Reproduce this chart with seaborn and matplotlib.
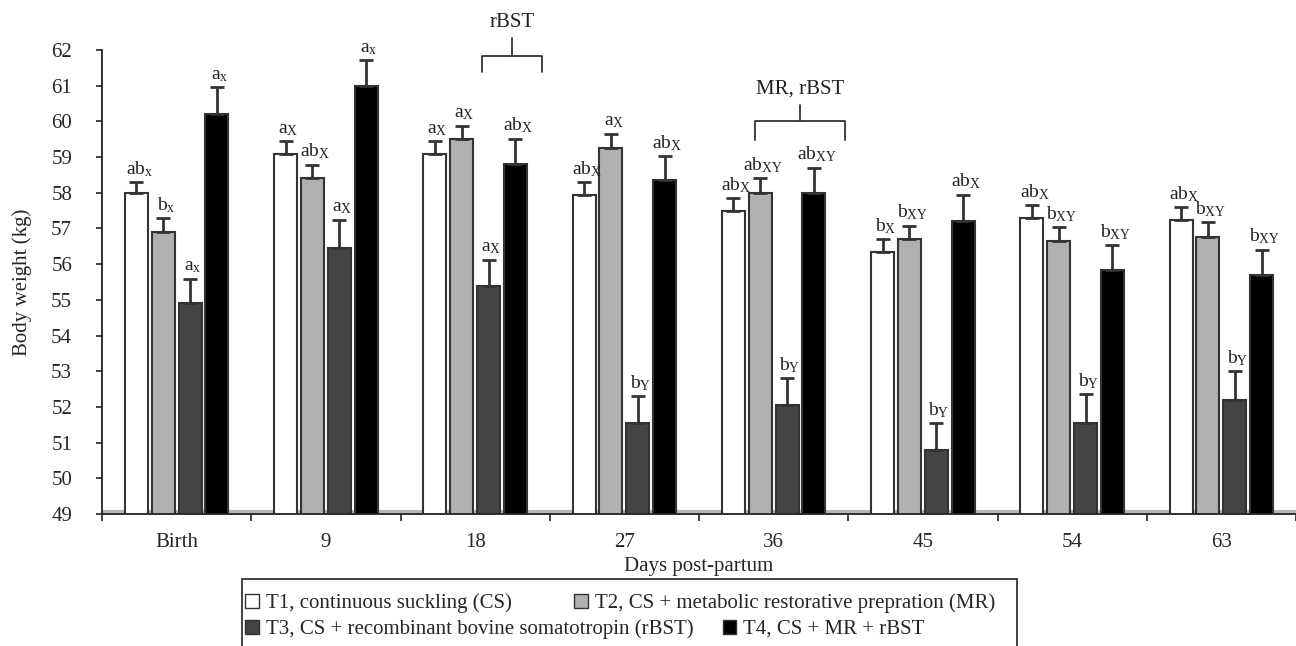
import numpy as np
import pandas as pd
import seaborn as sns
import matplotlib.pyplot as plt
from matplotlib.lines import Line2D
from matplotlib.patches import Patch, Rectangle

days = ["Birth", "9", "18", "27", "36", "45", "54", "63"]
treatments = ["T1, continuous suckling (CS)",
              "T2, CS + metabolic restorative prepration (MR)",
              "T3, CS + recombinant bovine somatotropin (rBST)",
              "T4, CS + MR + rBST"]

t1 = [58.0, 59.1, 59.1, 57.95, 57.5, 56.35, 57.3, 57.25]
t2 = [56.9, 58.4, 59.5, 59.25, 58.0, 56.7, 56.65, 56.75]
t3 = [54.9, 56.45, 55.4, 51.55, 52.05, 50.8, 51.55, 52.2]
t4 = [60.2, 61.0, 58.8, 58.35, 58.0, 57.2, 55.85, 55.7]

e1 = [0.3, 0.34, 0.35, 0.35, 0.35, 0.35, 0.35, 0.35]
e2 = [0.39, 0.39, 0.38, 0.4, 0.4, 0.38, 0.38, 0.42]
e3 = [0.69, 0.79, 0.72, 0.75, 0.75, 0.75, 0.8, 0.8]
e4 = [0.75, 0.72, 0.72, 0.68, 0.7, 0.75, 0.68, 0.7]

lab1 = ["ab|x", "a|X", "a|X", "ab|X", "ab|X", "b|X", "ab|X", "ab|X"]
lab2 = ["b|x", "ab|X", "a|X", "a|X", "ab|XY", "b|XY", "b|XY", "b|XY"]
lab3 = ["a|x", "a|X", "a|X", "b|Y", "b|Y", "b|Y", "b|Y", "b|Y"]
lab4 = ["a|x", "a|x", "ab|X", "ab|X", "ab|XY", "ab|X", "b|XY", "b|XY"]

colors = ["#ffffff", "#b0b0b0", "#444444", "#000000"]

vals = [t1, t2, t3, t4]
errs = [e1, e2, e3, e4]
labs = [lab1, lab2, lab3, lab4]

rows = []
for ti, t in enumerate(treatments):
    for di, d in enumerate(days):
        rows.append({"Day": d, "Treatment": t, "Weight": vals[ti][di]})
df = pd.DataFrame(rows)

sns.set_theme(style="white")
plt.rcParams['font.family'] = ['Liberation Serif', 'DejaVu Serif']
plt.rcParams['mathtext.fontset'] = 'custom'
plt.rcParams['mathtext.rm'] = 'Liberation Serif'
plt.rcParams['mathtext.it'] = 'Liberation Serif:italic'

fig = plt.figure(figsize=(12.96, 6.46), dpi=100)
ax = fig.add_axes([102/1296, 1-514/646, 1-102/1296, (514-50)/646])

sns.barplot(data=df, x="Day", y="Weight", hue="Treatment", order=days,
            hue_order=treatments, palette=colors, errorbar=None,
            width=0.72, gap=0.14, edgecolor="#333333", linewidth=1.5,
            ax=ax, legend=False)

ax.set_ylim(49, 62)
ax.set_xlim(-0.5, 7.5)

bar_conts = list(ax.containers)
for ti, cont in enumerate(bar_conts):
    xs = [p.get_x() + p.get_width()/2 for p in cont.patches]
    hs = [p.get_height() + p.get_y() for p in cont.patches]
    ax.errorbar(xs, hs, yerr=[np.zeros(len(xs)), errs[ti]], fmt='none',
                ecolor="#333333", elinewidth=2, capsize=5, capthick=2, zorder=3)
    for x, h, e, lab in zip(xs, hs, errs[ti], labs[ti]):
        main, sub = lab.split("|")
        ax.annotate(r"$\mathrm{%s}_{\mathrm{%s}}$" % (main, sub), (x, h + e),
                    xytext=(2, 2.5), textcoords="offset points",
                    ha="center", va="bottom", fontsize=14, color="#222222",
                    annotation_clip=False)

# brackets
def bracket(x0, x1, y, ylow, ytop, ytext, text):
    kw = dict(color="#333333", lw=1.3, clip_on=False)
    xm = (x0 + x1) / 2
    ax.add_line(Line2D([x0, x0, x1, x1], [ylow, y, y, ylow], **kw))
    ax.add_line(Line2D([xm, xm], [y, ytop], **kw))
    ax.text(xm, ytext, text, ha="center", va="center", fontsize=15,
            color="#222222", clip_on=False)

bracket(2.045, 2.45, 61.83, 61.38, 62.34, 62.78, "rBST")
bracket(3.877, 4.476, 60.0, 59.48, 60.46, 60.92, "MR, rBST")

# axes styling
ax.axhline(49.06, color="#b8b8b8", lw=3, zorder=0.5)
sns.despine(ax=ax, top=True, right=True)
for s in ["left", "bottom"]:
    ax.spines[s].set_color("#222222")
    ax.spines[s].set_linewidth(1.3)
ax.set_yticks(np.arange(49, 63, 1))
ax.set_yticklabels([str(v) for v in range(49, 63)], fontsize=15)
ax.tick_params(axis="y", direction="out", length=4.5, width=1.2, color="#222222",
               left=True, pad=17)
ax.set_xticks(range(len(days)))
ax.set_xticklabels(days, fontsize=15)
ax.tick_params(axis="x", which="major", length=0, pad=14)
ax.set_xticks(np.arange(-0.5, 7.6, 1), minor=True)
ax.tick_params(axis="x", which="minor", direction="out", length=5, width=1.2,
               color="#222222", bottom=True)
ax.set_ylabel("Body weight (kg)", fontsize=15, labelpad=14)
ax.set_xlabel("Days post-partum", fontsize=15, labelpad=3.5)
ax.grid(False)

# legend: two rows, each its own legend, in one shared frame
handles = [Patch(facecolor=c, edgecolor="#333333", linewidth=1) for c in colors]
common = dict(ncol=2, loc="center left", frameon=False, fontsize=15,
              handlelength=0.65, handleheight=0.65, handletextpad=0.35,
              borderpad=0, borderaxespad=0)
leg1 = fig.legend(handles[0:2], treatments[0:2],
                  bbox_to_anchor=(245/1296, 1-603/646), columnspacing=3.0,
                  **common)
leg2 = fig.legend(handles[2:4], treatments[2:4],
                  bbox_to_anchor=(245/1296, 1-629/646), columnspacing=1.4,
                  **common)
fig.add_artist(Rectangle((242/1296, -0.02), (1017-242)/1296, 0.02 + 1-579/646,
                         transform=fig.transFigure, fill=False,
                         edgecolor="#222222", linewidth=1.2))

fig.savefig("out.png", dpi=100)
